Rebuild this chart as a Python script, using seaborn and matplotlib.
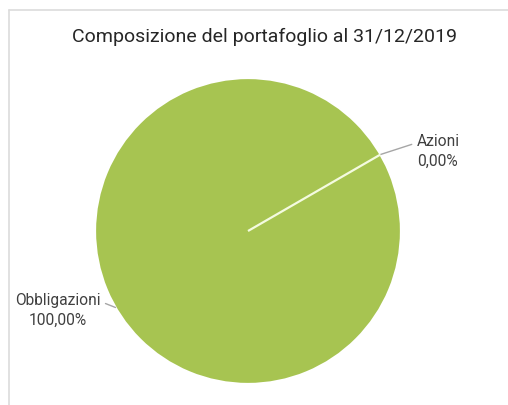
import numpy as np
import matplotlib
matplotlib.use("Agg")
import matplotlib.pyplot as plt
from matplotlib.lines import Line2D
import seaborn as sns

# data
categorie = ["Azioni", "Obbligazioni"]
pesi = [0.0, 100.0]
etichette = ["0,00%", "100,00%"]
titolo = "Composizione del portafoglio al 31/12/2019"

sns.set_theme(style="white")
plt.rcParams['font.family'] = ['Roboto', 'DejaVu Sans']

fig = plt.figure(figsize=(5.08, 4.05), dpi=100)
fig.patch.set_facecolor("white")

# light frame on top / left like the original screenshot
fy = 1 - 9.5/405
fx = 8.5/508
fig.add_artist(Line2D([fx, 1], [fy, fy], transform=fig.transFigure, color="#dcdcdc", lw=1.2))
fig.add_artist(Line2D([fx, fx], [0, fy], transform=fig.transFigure, color="#dcdcdc", lw=1.2))

# pie occupies x 95..401, y 78..384 px
ax = fig.add_axes([95/508, (405-384)/405, 306/508, 306/405])

green = "#a7c451"
start = 30
wedges, _ = ax.pie(pesi, colors=[green, green], startangle=start, counterclock=True,
                   wedgeprops=dict(edgecolor="white", linewidth=1.6))
# the empty slice draws only its white edge: keep it on top
for w, v in zip(wedges, pesi):
    if v == 0:
        w.set_zorder(5)
        w.set_edgecolor("#f4fbe0")
ax.set_xlim(-1, 1)
ax.set_ylim(-1, 1)
ax.set_aspect("equal")
ax.axis("off")

for w, cat, lab in zip(wedges, categorie, etichette):
    mid = np.deg2rad((w.theta1 + w.theta2) / 2)
    tang = mid - np.deg2rad(7.3)
    tx, ty = 1.345 * np.cos(tang), 1.345 * np.sin(tang)
    ex, ey = np.cos(mid), np.sin(mid)
    relpos = (0, 0.75) if tx > 0 else (1, 0.75)
    ax.annotate(f"{cat}\n{lab}", xy=(ex, ey), xytext=(tx, ty), ha="center", va="center",
                fontsize=11.2, color="#404040", linespacing=1.4, annotation_clip=False,
                arrowprops=dict(arrowstyle="-", color="#a6a6a6", lw=1, shrinkA=1, shrinkB=0,
                                relpos=relpos))

fig.text(265/508, 1 - 37/405, titolo, ha="center", va="center", fontsize=14, color="#262626")

fig.savefig("out.png", dpi=100)
